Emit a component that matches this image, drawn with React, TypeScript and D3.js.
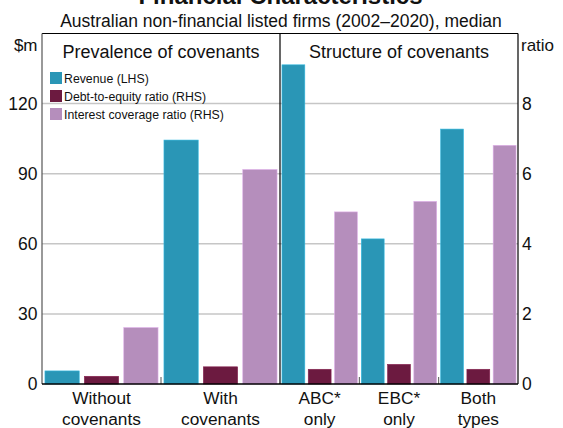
import React, { useEffect, useRef } from 'react';
import * as d3 from 'd3';

const leftCategories = [['Without', 'covenants'], ['With', 'covenants']];
const rightCategories = [['ABC*', 'only'], ['EBC*', 'only'], ['Both', 'types']];

const seriesNames = ['Revenue (LHS)', 'Debt-to-equity ratio (RHS)', 'Interest coverage ratio (RHS)'];
const seriesColors = ['#2a96b6', '#6c1a40', '#b58ebc'];

// revenue in $m (LHS), ratios on RHS
const revenue = [5.6, 104.4, 136.6, 62.1, 109.1];
const debtToEquity = [0.22, 0.49, 0.42, 0.56, 0.42];
const interestCoverage = [1.61, 6.12, 4.91, 5.21, 6.81];

const leftTicks = [0, 30, 60, 90, 120];
const rightTicks = [0, 2, 4, 6, 8];

function App() {
  const ref = useRef(null);

  useEffect(() => {
    const svg = d3.select(ref.current);
    svg.selectAll('*').remove();

    const W = 563;
    const left = 42;
    const right = 518;
    const top = 33.5;
    const bottom = 384;
    const mid = 280;
    const font = '"Liberation Sans", Arial, sans-serif';
    const ink = '#111';

    const yL = d3.scaleLinear().domain([0, 150]).range([bottom, top]);
    const yR = d3.scaleLinear().domain([0, 10]).range([bottom, top]);

    const xLeft = d3.scaleBand().domain(leftCategories.map((d) => d[0])).range([left, mid]);
    const xRight = d3.scaleBand().domain(rightCategories.map((d) => d[0])).range([mid, right]);

    const g = svg.append('g');

    const addText = (x, y, txt, size, anchor = 'start', weight = 'normal') =>
      g.append('text')
        .attr('x', x)
        .attr('y', y)
        .attr('text-anchor', anchor)
        .attr('font-family', font)
        .attr('font-size', size)
        .attr('font-weight', weight)
        .attr('fill', ink)
        .text(txt);

    // gridlines
    g.selectAll('.grid')
      .data(leftTicks.filter((t) => t > 0))
      .enter()
      .append('line')
      .attr('x1', left)
      .attr('x2', right)
      .attr('y1', (d) => yL(d))
      .attr('y2', (d) => yL(d))
      .attr('stroke', '#c6c6c6')
      .attr('stroke-width', 1.5);

    const cats = [
      ...leftCategories.map((c) => ({ label: c, x: xLeft(c[0]), w: xLeft.bandwidth() })),
      ...rightCategories.map((c) => ({ label: c, x: xRight(c[0]), w: xRight.bandwidth() })),
    ];

    // bars
    cats.forEach((c, i) => {
      const inner = d3
        .scaleBand()
        .domain(seriesNames)
        .range([c.x, c.x + c.w])
        .paddingInner(0.13)
        .paddingOuter(0.075);
      const vals = [yL(revenue[i]), yR(debtToEquity[i]), yR(interestCoverage[i])];
      seriesNames.forEach((s, j) => {
        g.append('rect')
          .attr('x', inner(s))
          .attr('y', vals[j])
          .attr('width', inner.bandwidth())
          .attr('height', bottom - vals[j])
          .attr('fill', seriesColors[j])
          .attr('stroke', d3.color(seriesColors[j]).brighter(0.6).toString())
          .attr('stroke-width', 0.6);
      });
      // category labels
      const cx = c.x + c.w / 2;
      addText(cx, 404, c.label[0], 17.3, 'middle');
      addText(cx, 425, c.label[1], 17.3, 'middle');
    });

    // category separator ticks
    const sepX = [xLeft('With'), xRight('EBC*'), xRight('Both')];
    g.selectAll('.sep')
      .data(sepX)
      .enter()
      .append('line')
      .attr('x1', (d) => d)
      .attr('x2', (d) => d)
      .attr('y1', bottom)
      .attr('y2', bottom - 7)
      .attr('stroke', '#555')
      .attr('stroke-width', 1);

    // frame
    g.append('line').attr('x1', left).attr('x2', right).attr('y1', top).attr('y2', top).attr('stroke', '#000').attr('stroke-width', 1.2);
    g.append('line').attr('x1', left).attr('x2', left).attr('y1', top).attr('y2', bottom).attr('stroke', '#555').attr('stroke-width', 1.2);
    g.append('line').attr('x1', right).attr('x2', right).attr('y1', top).attr('y2', bottom).attr('stroke', '#000').attr('stroke-width', 1.2);
    g.append('line').attr('x1', mid).attr('x2', mid).attr('y1', top).attr('y2', bottom).attr('stroke', '#000').attr('stroke-width', 1.2);
    g.append('line').attr('x1', left).attr('x2', right).attr('y1', bottom).attr('y2', bottom).attr('stroke', '#000').attr('stroke-width', 1.5);

    // axis tick labels
    leftTicks.forEach((t) => addText(37.5, yL(t) + 6.3, t, 17.5, 'end'));
    rightTicks.forEach((t) => addText(522, yR(t) + 6.3, t, 17.5));

    addText(37.5, 51, '$m', 17, 'end');
    addText(521, 51, 'ratio', 17);

    // titles (main title runs off the top edge, as in the source)
    addText(W / 2 - 1, 4, 'Financial Characteristics', 24, 'middle', 'bold');
    addText(281, 27, 'Australian non-financial listed firms (2002–2020), median', 17.5, 'middle');

    addText((left + mid) / 2, 57.5, 'Prevalence of covenants', 18, 'middle');
    addText((mid + right) / 2, 57.5, 'Structure of covenants', 18, 'middle');

    // legend
    seriesNames.forEach((s, j) => {
      const ly = 72 + j * 18;
      g.append('rect').attr('x', 50).attr('y', ly).attr('width', 12).attr('height', 12).attr('fill', seriesColors[j]);
      addText(64, ly + 11, s, 12.3);
    });
  }, []);

  return (
    <svg
      ref={ref}
      width={563}
      height={428}
      style={{ position: 'absolute', left: 0, top: 0, background: '#fff' }}
    />
  );
}

export default App;
